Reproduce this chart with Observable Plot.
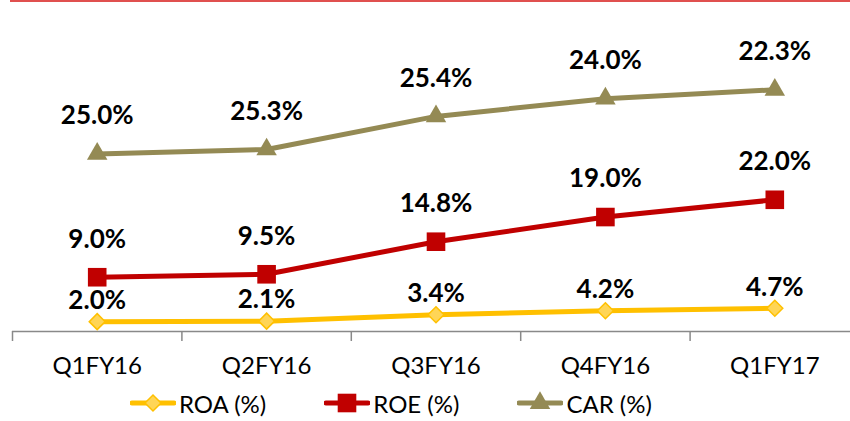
<!DOCTYPE html>
<html>
<head>
<meta charset="utf-8">
<script src="https://cdn.jsdelivr.net/npm/d3@7"></script>
<script src="https://cdn.jsdelivr.net/npm/@observablehq/plot@0.6"></script>
<style>
  html, body { margin: 0; padding: 0; background: #fff; }
  body { width: 850px; height: 421px; overflow: hidden; position: relative; font-family: Lato, "Open Sans", sans-serif; }
  #topline { position: absolute; left: 10px; top: 0; width: 840px; height: 2px; background: #E0504F; }
  #chart svg { display: block; }
  #legend { display: flex; align-items: center; height: 36px; padding-left: 130px; font-size: 24px; color: #000; }
  .item { display: flex; align-items: center; }
  .item span { margin-left: 3px; }
</style>
</head>
<body>
<div id="topline"></div>
<div id="chart"></div>
<div id="legend"></div>
<script>
const categories = ["Q1FY16", "Q2FY16", "Q3FY16", "Q4FY16", "Q1FY17"];
const roa = [2.0, 2.1, 3.4, 4.2, 4.7];
const roe = [9.0, 9.5, 14.8, 19.0, 22.0];
const car = [25.0, 25.3, 25.4, 24.0, 22.3];
const seriesNames = ["ROA (%)", "ROE (%)", "CAR (%)"];
const seriesColors = ["#FFC000", "#C00000", "#948A54"];
const markerFill = ["#FFD556", "#C00000", "#948A54"];
const markerSymbol = ["diamond2", "square", "triangle"];
const markerR = [7.2, 10.5, 7.6];
const labelDy = [-21, -38, -38];

// stacked line chart: each series sits on top of the previous ones
const seriesValues = [roa, roe, car];
const data = [];
const cum = categories.map(() => 0);
seriesValues.forEach((vals, s) => vals.forEach((v, i) => {
  cum[i] += v;
  data.push({i, value: v, top: cum[i], series: seriesNames[s], s});
}));

const boundaries = d3.range(categories.length + 1).map(k => k - 0.5);

const marks = [
  Plot.ruleY([0], {stroke: "#898989", strokeWidth: 1.5}),
  Plot.axisX({ticks: boundaries, tickSize: 10, tickFormat: () => "", stroke: "#898989", strokeWidth: 1.5, label: null}),
  Plot.axisX({ticks: d3.range(categories.length), tickSize: 0, tickPadding: 25, tickFormat: i => categories[i], fontSize: 24, fill: "#000", fontFamily: "Lato", label: null}),
  Plot.lineY(data, {x: "i", y: "top", z: "series", stroke: d => seriesColors[d.s], strokeWidth: 5})
];
seriesNames.forEach((name, s) => {
  const sub = data.filter(d => d.s === s);
  marks.push(Plot.dot(sub, {x: "i", y: "top", symbol: () => markerSymbol[s], r: markerR[s], fill: markerFill[s], stroke: s === 0 ? seriesColors[0] : "none", strokeWidth: 1.5}));
});
seriesNames.forEach((name, s) => {
  const sub = data.filter(d => d.s === s);
  marks.push(Plot.text(sub, {x: "i", y: "top", text: d => d.value.toFixed(1) + "%", dy: labelDy[s], fontSize: 26, fontWeight: "bold", fill: "#000", fontFamily: "Lato"}));
});

const chart = Plot.plot({
  width: 850,
  height: 385,
  marginLeft: 12,
  marginRight: 0,
  marginTop: 35,
  marginBottom: 54,
  x: {type: "linear", domain: [-0.5, categories.length - 0.5], range: [12, 859], axis: null},
  y: {domain: [0, 60], axis: null},
  style: {fontFamily: "Lato", background: "#fff", overflow: "hidden"},
  marks
});
document.getElementById("chart").appendChild(chart);

// legend
const legend = d3.select("#legend");
const gaps = [0, 58, 58];
seriesNames.forEach((name, s) => {
  const item = legend.append("div").attr("class", "item").style("margin-left", gaps[s] + "px");
  const svg = item.append("svg").attr("width", 46).attr("height", 24);
  svg.append("line").attr("x1", 2).attr("x2", 44).attr("y1", 12).attr("y2", 12)
    .attr("stroke", seriesColors[s]).attr("stroke-width", 5).attr("stroke-linecap", "round");
  const sym = {diamond2: d3.symbolDiamond2, square: d3.symbolSquare, triangle: d3.symbolTriangle}[markerSymbol[s]];
  svg.append("path").attr("transform", "translate(23,12)")
    .attr("d", d3.symbol(sym, Math.PI * markerR[s] * markerR[s])())
    .attr("fill", markerFill[s]).attr("stroke", s === 0 ? seriesColors[0] : "none").attr("stroke-width", 1.5);
  item.append("span").text(name);
});
</script>
</body>
</html>
